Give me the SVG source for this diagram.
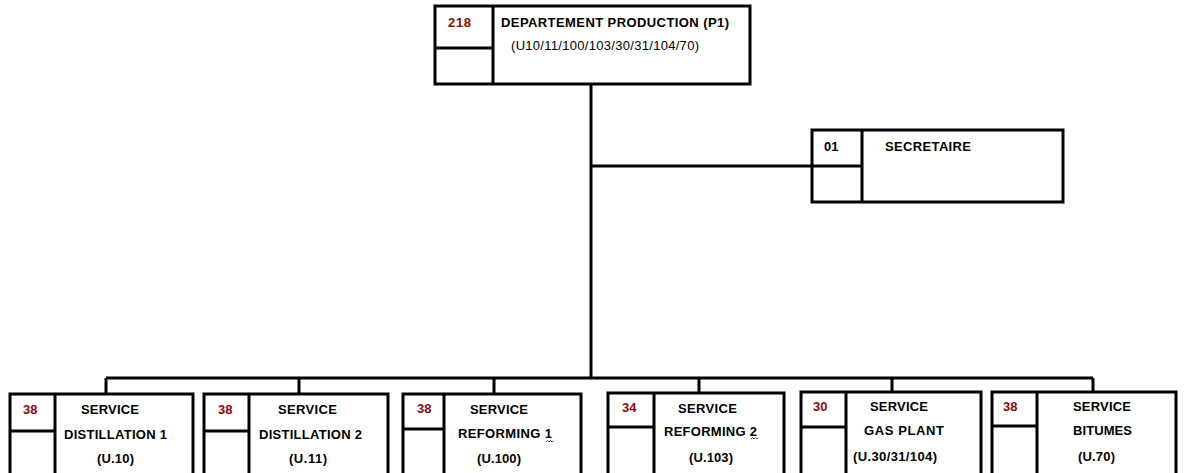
<svg xmlns="http://www.w3.org/2000/svg" width="1186" height="473" viewBox="0 0 1186 473">
<style>
.box{fill:#fff;stroke:#000;stroke-width:3}
.div{stroke:#000;stroke-width:3;fill:none}
.conn{stroke:#000;stroke-width:3;fill:none}
.num{font-family:"Liberation Sans",Arial,sans-serif;font-weight:bold;font-size:13px;fill:#8b0a0a}
.num2{font-family:"Liberation Sans",Arial,sans-serif;font-weight:bold;font-size:13px;fill:#000}
.t{font-family:"Liberation Sans",Arial,sans-serif;font-weight:bold;font-size:13px;fill:#000}
.tn{font-family:"Liberation Sans",Arial,sans-serif;font-size:13px;fill:#000}
.sq{stroke:#2244bb;stroke-width:1;fill:none}
</style>
<rect width="1186" height="473" fill="#fff"/>
<g id="connectors">
<path class="conn" d="M591,84 V378"/>
<path class="conn" d="M591,166 H812"/>
<path class="conn" d="M106,378 H1093"/>
<path class="conn" d="M106,378 V394"/>
<path class="conn" d="M299,378 V394"/>
<path class="conn" d="M494,378 V394"/>
<path class="conn" d="M699,378 V393"/>
<path class="conn" d="M892,378 V392"/>
<path class="conn" d="M1093,378 V392"/>
</g>
<g id="node-p1">
<rect class="box" x="435" y="6" width="315" height="78"/>
<path class="div" d="M493,6 V84 M435,48 H493"/>
<text class="num" x="448" y="27" textLength="23">218</text>
<text class="t" x="501" y="27" textLength="228">DEPARTEMENT PRODUCTION (P1)</text>
<text class="tn" x="511" y="50" textLength="188">(U10/11/100/103/30/31/104/70)</text>
</g>
<g id="node-secretaire">
<rect class="box" x="812" y="130" width="251" height="72"/>
<path class="div" d="M862,130 V202 M812,166 H862"/>
<text class="num2" x="824" y="151">01</text>
<text class="t" x="885" y="151" textLength="86">SECRETAIRE</text>
</g>
<g id="node-dist1">
<rect class="box" x="10" y="394" width="183" height="90"/>
<path class="div" d="M55,394 V484 M10,431 H55"/>
<text class="num" x="23" y="414">38</text>
<text class="t" x="81" y="414" textLength="58">SERVICE</text>
<text class="t" x="64" y="439" textLength="103">DISTILLATION 1</text>
<text class="t" x="97" y="463" textLength="37">(U.10)</text>
</g>
<g id="node-dist2">
<rect class="box" x="204" y="394" width="184" height="90"/>
<path class="div" d="M249,394 V484 M204,431 H249"/>
<text class="num" x="218" y="414">38</text>
<text class="t" x="278" y="414" textLength="59">SERVICE</text>
<text class="t" x="259" y="439" textLength="103">DISTILLATION 2</text>
<text class="t" x="289" y="463" textLength="38">(U.11)</text>
</g>
<g id="node-ref1">
<rect class="box" x="403" y="394" width="178" height="90"/>
<path class="div" d="M444,394 V484 M403,429 H444"/>
<text class="num" x="417" y="413">38</text>
<text class="t" x="470" y="414" textLength="58">SERVICE</text>
<text class="t" x="458" y="438" textLength="94">REFORMING 1</text>
<path class="sq" d="M546,442 l1.5,-1.5 l1.5,1.5 l1.5,-1.5 l1.5,1.5 l1.5,-1.5"/>
<text class="t" x="477" y="463" textLength="44">(U.100)</text>
</g>
<g id="node-ref2">
<rect class="box" x="608" y="393" width="176" height="91"/>
<path class="div" d="M654,393 V484 M608,427 H654"/>
<text class="num" x="622" y="412">34</text>
<text class="t" x="678" y="413" textLength="59">SERVICE</text>
<text class="t" x="664" y="436" textLength="93">REFORMING 2</text>
<path class="sq" d="M751,439 l1.5,-1.5 l1.5,1.5 l1.5,-1.5 l1.5,1.5 l1.5,-1.5"/>
<text class="t" x="689" y="462" textLength="44">(U.103)</text>
</g>
<g id="node-gas">
<rect class="box" x="801" y="392" width="180" height="92"/>
<path class="div" d="M846,392 V484 M801,427 H846"/>
<text class="num" x="813" y="411">30</text>
<text class="t" x="870" y="411" textLength="58">SERVICE</text>
<text class="t" x="864" y="435" textLength="80">GAS PLANT</text>
<text class="t" x="853" y="461" textLength="84">(U.30/31/104)</text>
</g>
<g id="node-bitumes">
<rect class="box" x="992" y="392" width="184" height="92"/>
<path class="div" d="M1037,392 V484 M992,426 H1037"/>
<text class="num" x="1003" y="411">38</text>
<text class="t" x="1073" y="411" textLength="58">SERVICE</text>
<text class="t" x="1073" y="435" textLength="59">BITUMES</text>
<text class="t" x="1078" y="461" textLength="37">(U.70)</text>
</g>
</svg>
